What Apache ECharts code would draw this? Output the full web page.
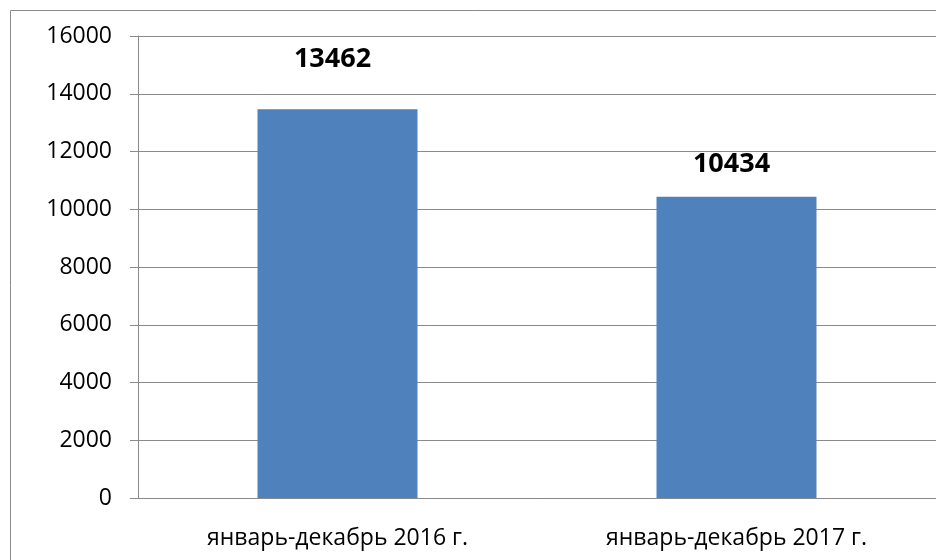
<!DOCTYPE html>
<html>
<head>
<meta charset="utf-8">
<script src="https://cdn.jsdelivr.net/npm/echarts@6/dist/echarts.min.js"></script>
<style>
  html, body { margin: 0; padding: 0; background: #fff; }
  #main { width: 936px; height: 560px; }
</style>
</head>
<body>
<div id="main"></div>
<script>
// данные
const categories = ['январь-декабрь 2016 г.', 'январь-декабрь 2017 г.'];
const values = [13462, 10434];
const labelGaps = [36, 19];

const chart = echarts.init(document.getElementById('main'));
const fontFamily = '"Open Sans", "Noto Sans", sans-serif';
const gray = '#8a8a8a';

const option = {
  animation: false,
  graphic: [
    {
      type: 'rect',
      shape: { x: 10.5, y: 10.5, width: 940, height: 560 },
      style: { fill: 'none', stroke: '#8c8c8c', lineWidth: 1 }
    }
  ],
  grid: { left: 138, top: 36, width: 804, height: 462 },
  xAxis: {
    type: 'category',
    data: categories,
    axisLine: { lineStyle: { color: gray } },
    axisTick: { length: 8, lineStyle: { color: gray } },
    axisLabel: { color: '#000', fontFamily, fontSize: 23, margin: 29 }
  },
  yAxis: {
    type: 'value',
    min: 0,
    max: 16000,
    interval: 2000,
    axisLine: { show: true, lineStyle: { color: gray } },
    axisTick: { show: true, length: 8, lineStyle: { color: gray } },
    splitLine: { lineStyle: { color: gray } },
    axisLabel: {
      color: '#000', fontFamily, fontSize: 23, margin: 26,
      formatter: v => String(v)
    }
  },
  series: [
    {
      type: 'bar',
      barWidth: 160,
      itemStyle: { color: '#4F81BD' },
      data: values.map((v, i) => ({
        value: v,
        label: {
          show: true,
          position: 'top',
          distance: labelGaps[i],
          offset: [-5, 0],
          color: '#000',
          fontFamily,
          fontWeight: 'bold',
          fontSize: 27
        }
      }))
    }
  ]
};
chart.setOption(option);
</script>
</body>
</html>
